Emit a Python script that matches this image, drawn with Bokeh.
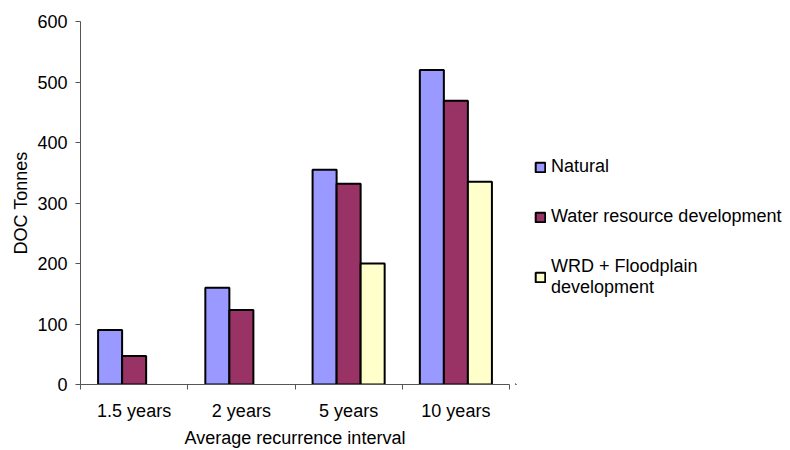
from bokeh.plotting import figure
from bokeh.layouts import row
from bokeh.models import Range1d, FixedTicker, Legend, LegendItem, ColumnDataSource
from bokeh.transform import dodge
from bokeh.embed import file_html
from bokeh.resources import INLINE

# DOC export (tonnes) by flood recurrence interval and development scenario
intervals = ["1.5 years", "2 years", "5 years", "10 years"]
natural = [90, 160, 355, 520]
water_resource = [47, 123, 332, 469]
wrd_floodplain = [None, None, 200, 335]

series_names = ["Natural", "Water resource development", "WRD + Floodplain\ndevelopment"]
series_colors = ["#9999FF", "#993366", "#FFFFCC"]

FONT = "Liberation Sans"

centers = [i + 0.5 for i in range(len(intervals))]

p = figure(width=515, height=450, output_backend="svg", toolbar_location=None,
           x_range=Range1d(0, len(intervals)), y_range=Range1d(0, 600),
           min_border_left=80, min_border_right=6, min_border_top=21, min_border_bottom=66)
p.outline_line_color = None
p.xgrid.visible = False
p.ygrid.visible = False
p.background_fill_color = "white"
p.border_fill_color = "white"

bar_w = 0.224
offsets = [-bar_w, 0.0, bar_w]
for vals, off, col in zip([natural, water_resource, wrd_floodplain], offsets, series_colors):
    xs = [c for c, v in zip(centers, vals) if v is not None]
    ys = [v for v in vals if v is not None]
    src = ColumnDataSource(dict(x=xs, top=ys))
    p.vbar(x=dodge("x", off, range=p.x_range), top="top", bottom=0, width=bar_w,
           source=src, fill_color=col, line_color="black", line_width=2)

# x axis: labels at category centres, tick marks on category boundaries
xa = p.xaxis[0]
xa.ticker = FixedTicker(ticks=centers, minor_ticks=list(range(len(intervals) + 1)))
xa.major_label_overrides = {c: lab for c, lab in zip(centers, intervals)}
xa.major_tick_out = 0
xa.major_tick_in = 0
xa.minor_tick_out = 5
xa.minor_tick_in = 0
xa.minor_tick_line_color = "#555555"
xa.axis_line_color = "#555555"
xa.major_label_standoff = 11
xa.major_label_text_font = FONT
xa.major_label_text_font_size = "18px"
xa.major_label_text_color = "black"
xa.axis_label = "Average recurrence interval"
xa.axis_label_text_font = FONT
xa.axis_label_text_font_size = "18px"
xa.axis_label_text_font_style = "normal"
xa.axis_label_text_color = "black"
xa.axis_label_standoff = 4

ya = p.yaxis[0]
ya.ticker = FixedTicker(ticks=[0, 100, 200, 300, 400, 500, 600])
ya.major_tick_out = 5
ya.major_tick_in = 0
ya.minor_tick_out = 0
ya.minor_tick_in = 0
ya.major_tick_line_color = "#555555"
ya.axis_line_color = "#555555"
ya.major_label_standoff = 8
ya.major_label_text_font = FONT
ya.major_label_text_font_size = "18px"
ya.major_label_text_color = "black"
ya.axis_label = "DOC Tonnes"
ya.axis_label_text_font = FONT
ya.axis_label_text_font_size = "18px"
ya.axis_label_text_font_style = "normal"
ya.axis_label_text_color = "black"
ya.axis_label_standoff = 3

# legend panel to the right of the chart; its swatch renderers sit outside the visible range
lg = figure(width=275, height=450, output_backend="svg", toolbar_location=None,
            x_range=Range1d(0, 1), y_range=Range1d(0, 1),
            min_border_left=0, min_border_right=0, min_border_top=0, min_border_bottom=0)
lg.axis.visible = False
lg.grid.visible = False
lg.outline_line_color = None
lg.border_fill_color = "white"
swatches = [lg.vbar(x=[-5], top=[-5], bottom=-6, width=0.1, fill_color=c,
                    line_color="black", line_width=2)
            for c in series_colors]
legend = Legend(items=[LegendItem(label=n, renderers=[r]) for n, r in zip(series_names, swatches)],
                location=(19, 86), padding=0, margin=0, spacing=29,
                glyph_width=12, glyph_height=12, label_standoff=5,
                label_text_font=FONT, label_text_font_size="18px", label_text_color="black",
                label_text_line_height=1.05,
                border_line_alpha=0, background_fill_alpha=0)
lg.add_layout(legend, "center")

layout = row(p, lg, spacing=0)
open("out.html", "w").write(file_html(layout, INLINE))
